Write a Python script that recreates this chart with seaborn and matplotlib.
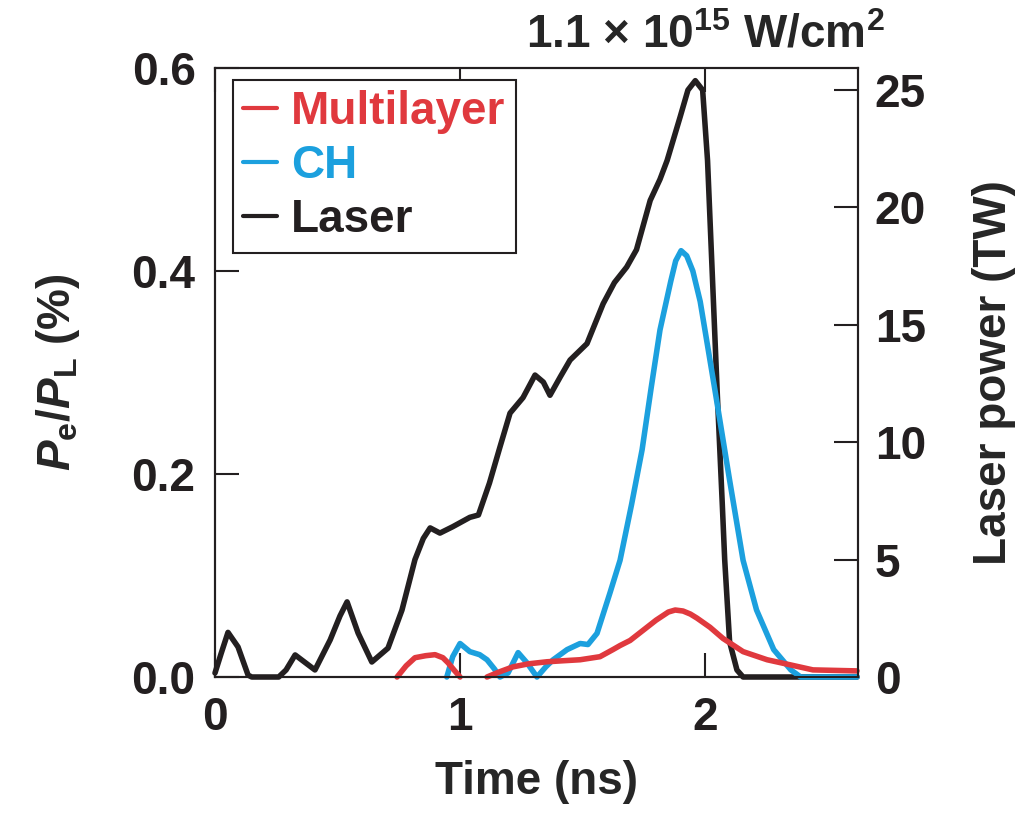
import pandas as pd
import matplotlib
matplotlib.use("Agg")
import matplotlib.pyplot as plt
import seaborn as sns
from matplotlib.lines import Line2D

# Laser power (TW), right axis
laser_t = [0, 0.025, 0.053, 0.094, 0.135, 0.15, 0.26, 0.29, 0.327, 0.37, 0.408, 0.47, 0.51,
           0.539, 0.584, 0.64, 0.706, 0.763, 0.816, 0.85, 0.878, 0.918, 0.97, 1.04, 1.075,
           1.12, 1.163, 1.204, 1.257, 1.306, 1.34, 1.367, 1.41, 1.449, 1.518, 1.584, 1.63,
           1.68, 1.72, 1.776, 1.816, 1.845, 1.898, 1.93, 1.96, 1.99, 2.01, 2.03, 2.05, 2.07,
           2.08, 2.1, 2.13, 2.155, 2.4, 2.62]
laser_tw = [0.17, 1.0, 1.9, 1.28, 0.08, 0, 0, 0.3, 0.94, 0.6, 0.3, 1.58, 2.6, 3.2, 1.87,
            0.64, 1.23, 2.85, 5.0, 5.9, 6.35, 6.13, 6.4, 6.8, 6.9, 8.26, 9.8, 11.24, 11.9,
            12.86, 12.56, 12.0, 12.8, 13.5, 14.2, 15.9, 16.8, 17.46, 18.2, 20.3, 21.2, 22.0,
            23.85, 25.0, 25.4, 25.0, 22.0, 17.0, 12.0, 7.4, 5.0, 1.5, 0.3, 0.0, 0.0, 0.0]

# CH, Pe/PL (%)
ch_t = [0.946, 0.97, 1.0, 1.04, 1.08, 1.11, 1.14, 1.163, 1.196, 1.237, 1.273, 1.314, 1.35,
        1.38, 1.437, 1.49, 1.522, 1.559, 1.612, 1.653, 1.70, 1.743, 1.78, 1.816, 1.86,
        1.88, 1.902, 1.925, 1.95, 1.98, 2.04, 2.1, 2.155, 2.21, 2.28, 2.35, 2.39, 2.62]
ch_pct = [0, 0.02, 0.033, 0.025, 0.022, 0.017, 0.008, 0, 0.004, 0.024, 0.014, 0, 0.01,
          0.017, 0.027, 0.033, 0.032, 0.043, 0.083, 0.115, 0.17, 0.224, 0.285, 0.342, 0.39,
          0.41, 0.42, 0.415, 0.4, 0.37, 0.283, 0.194, 0.115, 0.066, 0.027, 0.007, 0, 0]

# Multilayer, two segments
ml_t1 = [0.743, 0.78, 0.816, 0.86, 0.898, 0.93, 0.951, 0.975, 1.0]
ml_pct1 = [0, 0.011, 0.019, 0.021, 0.022, 0.019, 0.014, 0.007, 0]
ml_t2 = [1.11, 1.16, 1.216, 1.28, 1.355, 1.42, 1.49, 1.571, 1.624, 1.653, 1.694, 1.747,
         1.80, 1.85, 1.878, 1.91, 1.94, 1.967, 2.02, 2.073, 2.155, 2.253, 2.347, 2.44, 2.62]
ml_pct2 = [0, 0.005, 0.01, 0.013, 0.015, 0.016, 0.017, 0.02, 0.027, 0.031, 0.036, 0.046,
           0.056, 0.064, 0.066, 0.065, 0.062, 0.058, 0.049, 0.038, 0.025, 0.017, 0.012,
           0.007, 0.006]

x_ticks = [0, 1, 2]
left_ticks = [0.0, 0.2, 0.4, 0.6]
left_labels = ["0.0", "0.2", "0.4", "0.6"]
right_ticks = [0, 5, 10, 15, 20, 25]

RED = "#E0393E"
BLUE = "#1CA0DE"
BLACK = "#231F20"

sns.set_style("ticks")
plt.rcParams["font.family"] = ["Liberation Sans", "DejaVu Sans"]
plt.rcParams["font.weight"] = "bold"
plt.rcParams["mathtext.fontset"] = "custom"
plt.rcParams["mathtext.rm"] = "Liberation Sans:bold"
plt.rcParams["mathtext.bf"] = "Liberation Sans:bold"
plt.rcParams["mathtext.it"] = "Liberation Sans:italic:bold"
plt.rcParams["lines.solid_joinstyle"] = "round"
plt.rcParams["lines.solid_capstyle"] = "round"

FS = 33
LW = 4.0

fig = plt.figure(figsize=(10.36, 8.16), dpi=100)
ax = fig.add_axes([215 / 1036, 139 / 816, 643 / 1036, 609 / 816])
ax2 = ax.twinx()

df_laser = pd.DataFrame({"t": laser_t, "p": laser_tw})
df_ch = pd.DataFrame({"t": ch_t, "p": ch_pct})
df_ml1 = pd.DataFrame({"t": ml_t1, "p": ml_pct1})
df_ml2 = pd.DataFrame({"t": ml_t2, "p": ml_pct2})

sns.lineplot(data=df_laser, x="t", y="p", ax=ax2, color=BLACK, linewidth=LW,
             estimator=None, sort=False, clip_on=False)
sns.lineplot(data=df_ch, x="t", y="p", ax=ax, color=BLUE, linewidth=LW,
             estimator=None, sort=False, clip_on=False)
sns.lineplot(data=df_ml1, x="t", y="p", ax=ax, color=RED, linewidth=LW,
             estimator=None, sort=False, clip_on=False)
sns.lineplot(data=df_ml2, x="t", y="p", ax=ax, color=RED, linewidth=LW,
             estimator=None, sort=False, clip_on=False)

# colored curves on top of laser
ax.set_zorder(ax2.get_zorder() + 1)
ax.patch.set_visible(False)

ax.set_xlim(0, 2.624)
ax.set_ylim(0, 0.6)
ax2.set_ylim(0, 25.94)

ax.set_xticks(x_ticks)
ax.set_xticklabels([str(v) for v in x_ticks])
ax.set_yticks(left_ticks)
ax.set_yticklabels(left_labels)
ax2.set_yticks(right_ticks)
ax2.set_yticklabels([str(v) for v in right_ticks])

ax.tick_params(axis="x", direction="in", length=17, width=1.5, top=True,
               labelsize=FS, pad=14, colors=BLACK)
ax.tick_params(axis="y", direction="in", length=17, width=1.5, right=False,
               labelsize=FS, pad=14, colors=BLACK)
ax2.tick_params(axis="y", direction="in", length=17, width=1.5,
                labelsize=FS, pad=12, colors=BLACK)

for a in (ax, ax2):
    for s in a.spines.values():
        s.set_visible(True)
        s.set_linewidth(1.5)
        s.set_color(BLACK)

ax.set_xlabel("Time (ns)", fontsize=FS, fontweight="bold", labelpad=14)
ax.set_ylabel(r"$P_{\rm e}/P_{\rm L}$ (%)", fontsize=FS, fontweight="bold", labelpad=36)
ax2.set_ylabel("Laser power (TW)", fontsize=FS, fontweight="bold", labelpad=33)

fig.text(885 / 1036, 1 - 47 / 816, r"1.1 $\times$ 10$^{15}$ W/cm$^{2}$", fontsize=FS,
         fontweight="bold", ha="right", va="baseline")

handles = [Line2D([], [], color=RED, linewidth=3.0),
           Line2D([], [], color=BLUE, linewidth=3.0),
           Line2D([], [], color=BLACK, linewidth=3.0)]
leg = ax.legend(handles, ["Multilayer", "CH", "Laser"], loc="upper left",
                bbox_to_anchor=(0.028, 0.98), borderaxespad=0, fontsize=FS,
                handlelength=0.75, handletextpad=0.3, labelspacing=0.22,
                borderpad=0.22, fancybox=False, framealpha=1, edgecolor=BLACK)
leg.get_frame().set_linewidth(1.5)
for txt, c in zip(leg.get_texts(), [RED, BLUE, BLACK]):
    txt.set_color(c)

fig.savefig("out.png", dpi=100)
